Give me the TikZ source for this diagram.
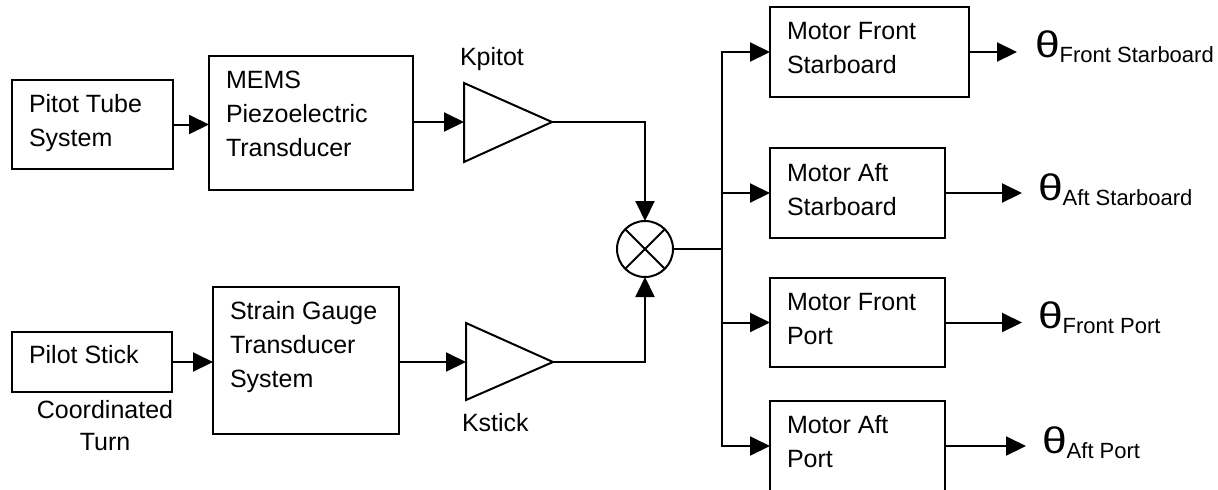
\documentclass[tikz,border=0pt]{standalone}
\usepackage{fontspec}
\usepackage{graphicx}
\setmainfont{Liberation Sans}
\usetikzlibrary{arrows.meta,calc}
\newcommand\mlines[1]{\begin{tabular}[t]{@{}l@{}}#1\end{tabular}}
\newcommand\clines[1]{\begin{tabular}[t]{@{}c@{}}#1\end{tabular}}
\newcommand\thlab[1]{{\fontsize{18.5}{18}\selectfont\scalebox{1.2}[1]{θ}}\raisebox{-2.5pt}{\fontsize{11}{13}\selectfont #1}}
\begin{document}
\begin{tikzpicture}[x=0.5pt,y=-0.5pt,
  font=\fontsize{12.5}{17}\selectfont,
  box/.style={draw,line width=1pt,inner sep=0pt,outer sep=0pt,anchor=north west},
  txt/.style={inner sep=0pt,outer sep=0pt,anchor=base west},
  conn/.style={line width=1pt},
  arr/.style={line width=1pt,-{Triangle[length=10pt,width=9.5pt]}},
  amp/.style={line width=1pt,line join=miter},
  mult/.style={draw,circle,line width=1pt,minimum size=28pt,inner sep=0pt,outer sep=0pt},
]
\useasboundingbox (0,0) rectangle (1218,489);

% boxes
\node[box,minimum width=80.5pt,minimum height=44.5pt] (pt) at (12,80) {};
\node[box,minimum width=102pt,minimum height=67pt] (mems) at (209,56) {};
\node[box,minimum width=80pt,minimum height=30pt] (ps) at (12,332) {};
\node[box,minimum width=93pt,minimum height=73.5pt] (sg) at (213,287) {};
\node[box,minimum width=99.5pt,minimum height=45pt] (mfs) at (770,7) {};
\node[box,minimum width=87.5pt,minimum height=45pt] (mas) at (770,148) {};
\node[box,minimum width=87.5pt,minimum height=44.5pt] (mfp) at (770,278) {};
\node[box,minimum width=87.5pt,minimum height=45pt] (map) at (770,401) {};

% box texts
\node[txt] (ptT) at (29,112) {\mlines{Pitot Tube\\System}};
\node[txt] (memsT) at (226,88) {\mlines{MEMS\\Piezoelectric\\Transducer}};
\node[txt] (psT) at (29,363) {Pilot Stick};
\node[txt] (sgT) at (230,319) {\mlines{Strain Gauge\\Transducer\\System}};
\node[txt] (mfsT) at (787,39) {\mlines{Motor Front\\Starboard}};
\node[txt] (masT) at (787,181) {\mlines{Motor Aft\\Starboard}};
\node[txt] (mfpT) at (787,310) {\mlines{Motor Front\\Port}};
\node[txt] (mapT) at (787,433) {\mlines{Motor Aft\\Port}};
\node[inner sep=0pt,anchor=base] (ctT) at (105,418) {\clines{Coordinated\\[-1pt]Turn}};

% amplifiers
\coordinate (kpin) at (464,122);
\coordinate (kpout) at (552,122);
\draw[amp] (464,83) -- (kpout) -- (464,162) -- cycle;
\coordinate (ksin) at (466,362);
\coordinate (ksout) at (553,362);
\draw[amp] (466,323) -- (ksout) -- (466,400) -- cycle;
\node[txt] (kpl) at (460,65) {Kpitot};
\node[txt] (ksl) at (462,431) {Kstick};

% multiplier
\node[mult] (mul) at (645,249) {};
\draw[conn] (mul.45) -- (mul.225);
\draw[conn] (mul.135) -- (mul.315);

% connectors
\draw[arr] (pt.east) -- (pt.east -| mems.west);
\draw[arr] (kpin -| mems.east) -- (kpin);
\draw[arr] (ps.east) -- (ps.east -| sg.west);
\draw[arr] (ksin -| sg.east) -- (ksin);
\draw[arr] (kpout) -| (mul.north);
\draw[arr] (ksout) -| (mul.south);

\coordinate (busM) at (722,249);
\draw[conn] (mul.east) -- (busM);
\draw[arr] (busM) |- (mfs.west);
\draw[arr] (busM) |- (map.west);
\draw[arr] (mas.west -| busM) -- (mas.west);
\draw[arr] (mfp.west -| busM) -- (mfp.west);

% outputs
\coordinate (tfs) at (1017,52);
\coordinate (tas) at (1022,194);
\coordinate (tfp) at (1022,323);
\coordinate (tap) at (1026,446);
\draw[arr] (mfs.east) -- (mfs.east -| tfs);
\draw[arr] (mas.east) -- (mas.east -| tas);
\draw[arr] (mfp.east) -- (mfp.east -| tfp);
\draw[arr] (map.east) -- (map.east -| tap);

\node[txt] (thfs) at (1035,57) {\thlab{Front Starboard}};
\node[txt] (thas) at (1038,200) {\thlab{Aft Starboard}};
\node[txt] (thfp) at (1038,328) {\thlab{Front Port}};
\node[txt] (thap) at (1042,453) {\thlab{Aft Port}};
\end{tikzpicture}
\end{document}
